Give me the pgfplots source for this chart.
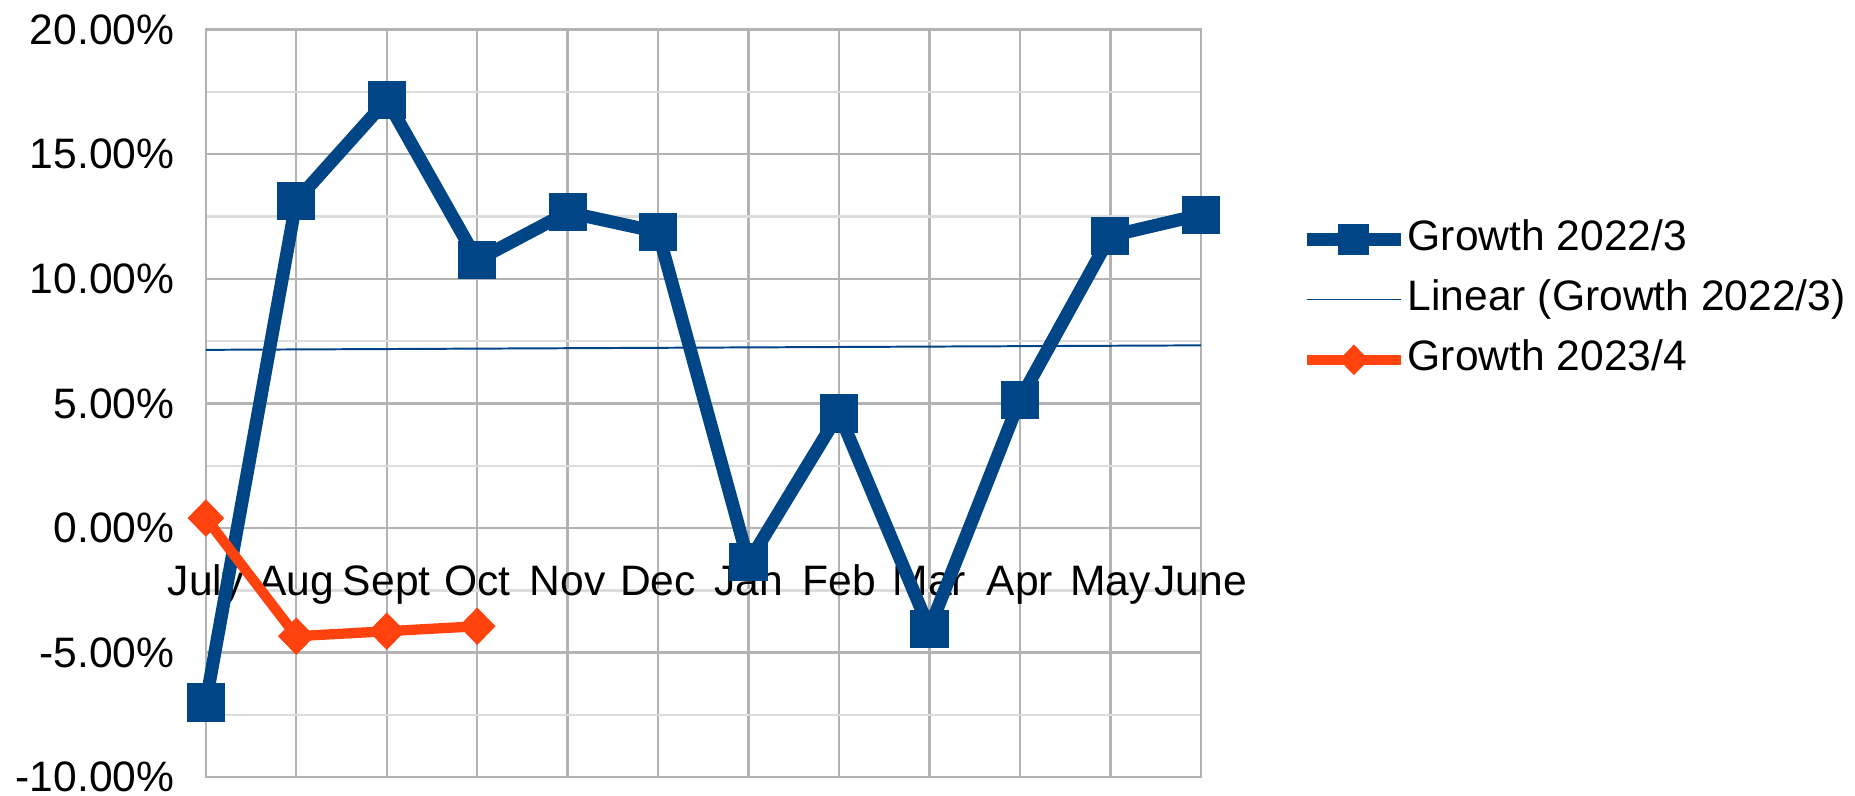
\documentclass[border=0pt]{standalone}
\usepackage{pgfplots}
\pgfplotsset{compat=1.18}
\usepackage{fontspec}
\setmainfont{Liberation Sans}
\definecolor{sblue}{HTML}{004586}
\definecolor{sorange}{HTML}{FF420E}
\definecolor{gridgray}{HTML}{B3B3B3}
\definecolor{minorgray}{HTML}{DDDDDD}
\begin{document}
\fontsize{10.8}{13}\selectfont
\begin{tikzpicture}
\useasboundingbox (-52.2pt,-4.5pt) rectangle (418.2pt,197.1pt);
\begin{axis}[
 at={(0,0)}, anchor=south west,
 scale only axis, width=252.3pt, height=189.6pt,
 xmin=0, xmax=11, ymin=-10, ymax=20,
 xtick={0,...,11},
 xticklabels={July,Aug,Sept,Oct,Nov,Dec,Jan,Feb,Mar,Apr,May,June},
 ytick={-10,-5,...,20}, minor y tick num=1,
 grid=both,
 major grid style={gridgray, line width=0.6pt},
 minor grid style={minorgray, line width=0.6pt},
 axis line style={gridgray, line width=0.6pt},
 major tick length=0pt, minor tick length=0pt,
 tick label style={font=\fontsize{10.8}{13}\selectfont},
 /pgf/number format/assume math mode=true,
 yticklabel={\pgfmathprintnumber[fixed,fixed zerofill,precision=2]{\tick}\%},
 yticklabel style={xshift=-4.2pt},
 xticklabel style={yshift=57.8pt, text height=7.8pt, text depth=2.3pt},
 clip=false,
 legend cell align=left,
 legend style={draw=none, fill=none, inner sep=0pt, at={(1.099,0.639)}, anchor=west,
   font=\fontsize{10.8}{13}\selectfont, row sep=4.8pt,
   nodes={inner sep=0pt, text height=8pt, text depth=2.5pt},
   /tikz/every even column/.append style={column sep=3.3pt}},
 legend image code/.code={\draw[mark repeat=2,mark phase=2,every mark/.append style={scale=0.8}] plot coordinates {(0pt,0pt)(12pt,0pt)(24pt,0pt)};},
]
\addplot[sblue, line width=3.3pt, mark=square*, mark size=4.6pt, mark options={solid, line width=0.5pt}]
 coordinates {(0,-7.0)(1,13.13)(2,17.17)(3,10.75)(4,12.67)(5,11.88)(6,-1.37)(7,4.6)(8,-4.04)(9,5.15)(10,11.72)(11,12.57)};
\addlegendentry{Growth 2022/3}
\addplot[sblue, line width=0.5pt, no marks] coordinates {(0,7.15)(11,7.33)};
\addlegendentry{Linear (Growth 2022/3)}
\addplot[sorange, line width=2.6pt, mark=diamond*, mark size=4.4pt, mark options={solid, line width=0.5pt, xscale=1.3}]
 coordinates {(0,0.4)(1,-4.34)(2,-4.14)(3,-3.94)};
\addlegendentry{Growth 2023/4}
\end{axis}
\end{tikzpicture}
\end{document}
